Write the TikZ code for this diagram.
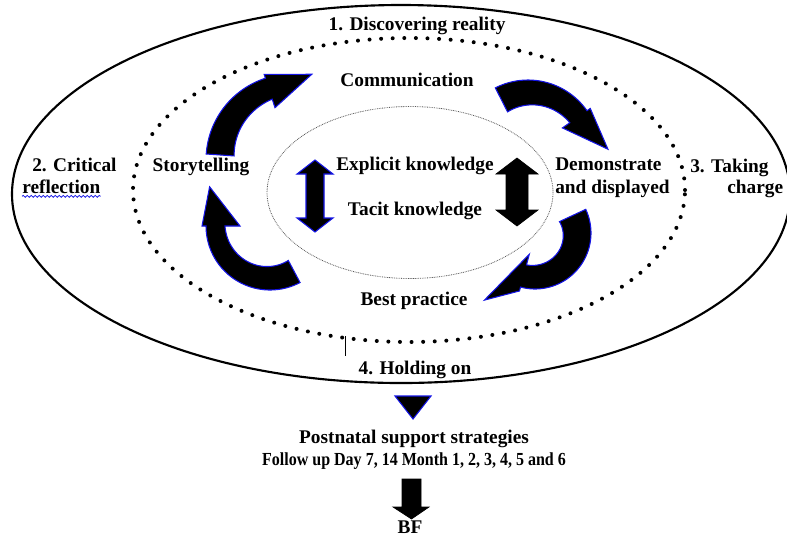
\documentclass[tikz,border=0pt]{standalone}
\usepackage{fontspec}
\setmainfont{Liberation Serif}
\usetikzlibrary{decorations.pathmorphing}
\definecolor{outlineblue}{RGB}{20,20,230}
\newcommand\carr[9]{%
  \filldraw[blk] plot[domain=#5:#6, samples=40] ({#1+#4*cos(\x)},{#2+#4*sin(\x)})
    -- ({#1+(#4+4)*cos(#6)},{#2+(#4+4)*sin(#6)})
    -- ({#1+#8*cos(#7)},{#2+#8*sin(#7)})
    -- ({#1+#9*cos(#6)},{#2+#9*sin(#6)})
    -- plot[domain=#6:#5, samples=40] ({#1+(#3-3+6*(\x-(#5))/((#6)-(#5)))*cos(\x)},{#2+(#3-3+6*(\x-(#5))/((#6)-(#5)))*sin(\x)})
    -- cycle;}
\newcommand\dblarr[7]{% cx ytop ybot halfhead halfshaft headlen style
  \filldraw[#7] (#1,#2) -- ({#1+#4},{#2+#6}) -- ({#1+#5},{#2+#6}) -- ({#1+#5},{#3-#6})
    -- ({#1+#4},{#3-#6}) -- (#1,#3) -- ({#1-#4},{#3-#6}) -- ({#1-#5},{#3-#6})
    -- ({#1-#5},{#2+#6}) -- ({#1-#4},{#2+#6}) -- cycle;}
\begin{document}
\begin{tikzpicture}[x=0.75pt,y=-0.75pt,
  lbl/.style={font=\fontsize{14.5}{17.25}\selectfont\bfseries, inner sep=0pt, anchor=base},
  lblw/.style={lbl, anchor=base west},
  smalllbl/.style={lbl, font=\fontsize{13.8}{16}\selectfont\bfseries},
  blk/.style={fill=black, draw=outlineblue, line width=0.8pt, line join=miter},
  blkplain/.style={fill=black, draw=black, line width=0.5pt, line join=miter},
  outerring/.style={draw=black, line width=1.6pt},
  dotring/.style={draw=black, line width=3pt, line cap=round, dash pattern=on 0pt off 8.7pt},
  innerring/.style={draw=black!65, line width=0.6pt, dash pattern=on 0.6pt off 0.7pt}]
\useasboundingbox (0,0) rectangle (787,537);
\clip (0,0) rectangle (787,537);
% rings
\draw[outerring] (401,194) ellipse [x radius=291.75pt, y radius=141.75pt];
\draw[dotring] (409,190) ellipse [x radius=207pt, y radius=114pt];
\draw[innerring] (410,192.5) ellipse [x radius=107.25pt, y radius=64.5pt];
% curved arrows
\carr{292}{160}{61}{86}{184}{252}{283}{88}{55}
\carr{528}{152}{48}{72}{243}{325}{358}{80}{42}
\carr{535}{233}{30}{56}{-25}{105}{127}{84}{22}
\carr{270}{226}{42}{64}{62}{180}{213}{72}{30}
% double arrows
\dblarr{315}{160}{232}{18}{9}{14}{blk}
\dblarr{517}{158}{226}{21}{11}{16}{blkplain}
% labels
\node[lbl] (disc) at (417,30) {1. Discovering reality};
\node[lbl] (comm) at (407,86) {Communication};
\node[lbl] (story) at (201,171) {Storytelling};
\node[lbl] (expl) at (415,170) {Explicit knowledge};
\node[lbl] (tacit) at (415,215) {Tacit knowledge};
\node[lblw] (demo) at (555,170) {Demonstrate};
\node[lblw] (disp) at (555,193) {and displayed};
\node[lblw] (crit) at (32,171) {2. Critical};
\node[lblw] (refl) at (22,193) {reflection};
\node[lblw] (take) at (690,172) {3. Taking};
\node[lblw] (charge) at (727,193) {charge};
\node[lbl] (best) at (414,305) {Best practice};
\node[lbl] (hold) at (415,374) {4. Holding on};
\node[lbl] (post) at (414,443) {Postnatal support strategies};
\node[smalllbl] (follow) at (414,465) {\scalebox{0.87}[1]{Follow up Day 7, 14 Month 1, 2, 3, 4, 5 and 6}};
\node[lbl] (bf) at (410,533) {BF};
% spell-check underline
\draw[outlineblue, line width=0.6pt, decorate, decoration={snake, amplitude=0.7pt, segment length=3pt}]
  ([yshift=-2.5pt]refl.base west) -- ([yshift=-2.5pt]refl.base east);
% cursor mark
\draw[line width=0.6pt] (345,336) -- (345,356);
% bottom shapes
\filldraw[blk] (395,396) -- (431,396) -- (413,419) -- cycle;
\filldraw[blkplain] (402,479) -- (421,479) -- (421,507) -- (429,507) -- (411.5,519) -- (393,507) -- (402,507) -- cycle;
\end{tikzpicture}
\end{document}
